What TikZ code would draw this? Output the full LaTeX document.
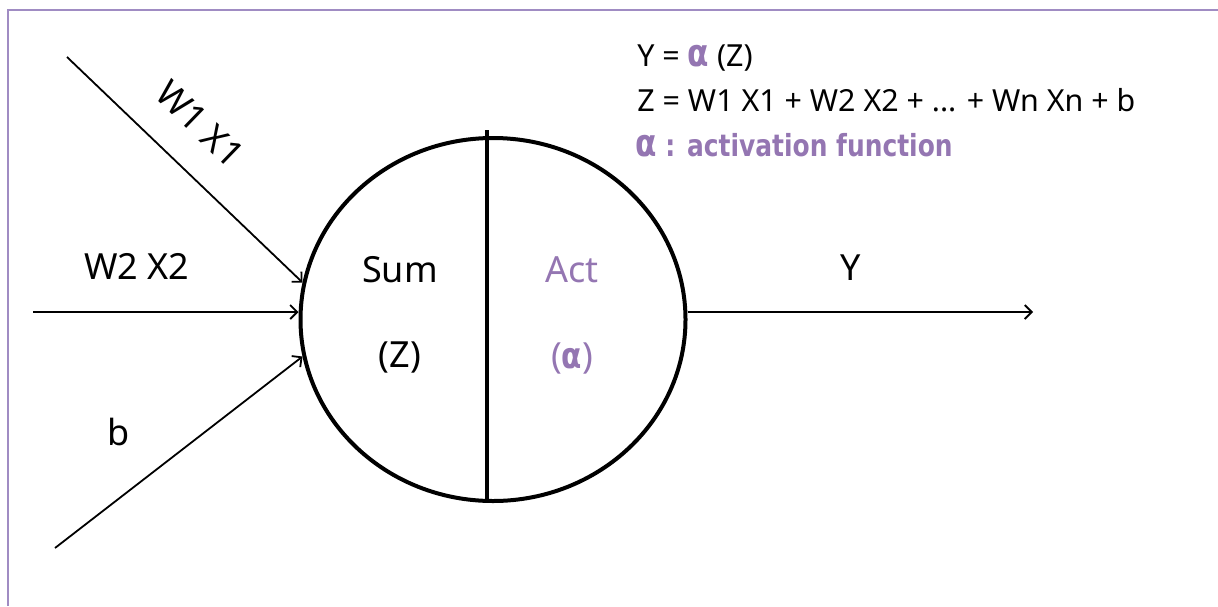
\documentclass[tikz,border=0pt]{standalone}
\usepackage{fontspec}
\setmainfont{Noto Sans}
\newfontfamily\condbold{DejaVu Sans}[FakeStretch=0.82]
\usetikzlibrary{shapes.geometric,arrows.meta}
\definecolor{actpurple}{RGB}{148,118,178}
\definecolor{framepurple}{RGB}{160,140,195}
\newcommand{\alphabold}{{\condbold\bfseries α}}

\begin{document}
\begin{tikzpicture}[x=0.5pt, y=-0.5pt,
  every node/.style={inner sep=0pt},
  lbl/.style={font=\fontsize{18}{20}\selectfont},
  eqn/.style={font=\fontsize{15.2}{17}\selectfont, anchor=west},
  feed/.style={-{Straight Barb[length=3.5pt,width=7pt]}, line width=0.9pt},
]
\useasboundingbox (0,0) rectangle (1218,606);
\draw[framepurple, line width=1pt] (8,606) -- (8,10) -- (1218,10);

% neuron
\node[draw, ellipse, line width=2pt, minimum width=192.5pt, minimum height=181.5pt] (neuron) at (493,319.5) {};
\coordinate (divtop) at (487,130);
\draw[line width=2pt] (divtop) -- (divtop |- neuron.south);

\node[lbl] (sum) at (400,270) {Sum};
\node[lbl] (sumz) at (400,357) {(Z)};
\node[lbl, text=actpurple] (act) at (572,270) {Act};
\node[lbl, text=actpurple] (acta) at (572,358) {(\alphabold)};

% inputs
\coordinate (in1) at (67,57);
\coordinate (in2) at (33,312);
\coordinate (in3) at (55,548);
\draw[feed] (in1) -- (neuron.169);
\draw[feed] (in2) -- (neuron.west |- in2);
\draw[feed] (in3) -- (neuron.191);
\node[lbl, rotate=-44] (w1x1) at (200,124) {W1 X1};
\node[lbl] (w2x2) at (137,266) {W2 X2};
\node[lbl] (bias) at (119,432) {b};

% output
\coordinate (out) at (1033,312);
\draw[feed] (neuron.east |- out) -- (out);
\node[lbl] (y) at (851,268) {Y};

% formulas
\node[eqn] (eqy) at (637,58) {Y = \textcolor{actpurple}{\fontsize{19}{19}\selectfont\alphabold} (Z)};
\node[eqn] (eqz) at (637,100) {Z = W1 X1 + W2 X2 + ... + Wn Xn + b};
\node[eqn, text=actpurple] (eqa) at (635,145) {{\fontsize{19}{19}\selectfont\alphabold}{\condbold\bfseries\ : activation function}};
\end{tikzpicture}
\end{document}
